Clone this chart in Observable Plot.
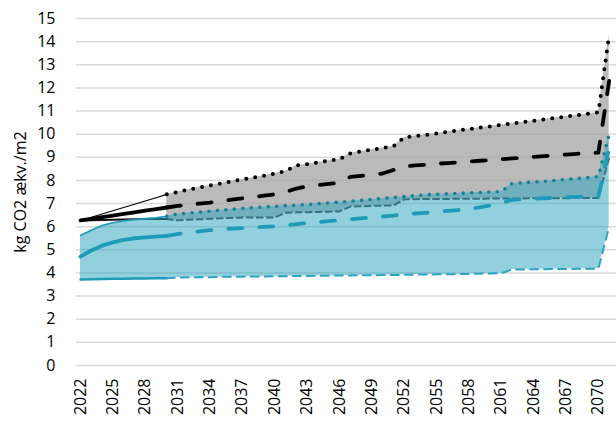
<!DOCTYPE html>
<html>
<head>
<meta charset="utf-8">
<script src="https://cdn.jsdelivr.net/npm/d3@7"></script>
<script src="https://cdn.jsdelivr.net/npm/@observablehq/plot@0.6"></script>
<style>
  html, body { margin: 0; padding: 0; background: #fff; }
  #chart { width: 616px; height: 423px; }
</style>
</head>
<body>
<div id="chart"></div>
<script>
const years = [2022,2023,2024,2025,2026,2027,2028,2029,2030,2031,2032,2033,2034,2035,2036,2037,2038,2039,2040,2041,2042,2043,2044,2045,2046,2047,2048,2049,2050,2051,2052,2053,2054,2055,2056,2057,2058,2059,2060,2061,2062,2063,2064,2065,2066,2067,2068,2069,2070,2071];

const blackMax = [6.27,6.41,6.55,6.69,6.83,6.97,7.11,7.25,7.4,7.5,7.6,7.7,7.78,7.87,7.96,8.04,8.12,8.2,8.3,8.4,8.65,8.7,8.78,8.85,8.92,9.17,9.25,9.33,9.4,9.48,9.86,9.92,9.97,10.03,10.1,10.16,10.22,10.28,10.34,10.4,10.46,10.52,10.58,10.64,10.7,10.76,10.82,10.88,10.94,14.3];
const blackMean = [6.27,6.34,6.41,6.48,6.55,6.62,6.69,6.76,6.83,6.9,6.95,7.0,7.04,7.1,7.17,7.23,7.28,7.34,7.4,7.5,7.65,7.74,7.8,7.85,7.9,8.15,8.2,8.24,8.3,8.45,8.6,8.65,8.68,8.72,8.75,8.78,8.82,8.85,8.88,8.92,8.95,8.98,9.02,9.05,9.08,9.12,9.15,9.18,9.2,12.3];
const blackMin = [6.27,6.28,6.29,6.3,6.31,6.32,6.33,6.34,6.33,6.28,6.3,6.32,6.34,6.36,6.38,6.4,6.4,6.4,6.4,6.6,6.62,6.63,6.64,6.65,6.66,6.87,6.88,6.9,6.91,6.92,7.18,7.19,7.2,7.2,7.2,7.21,7.21,7.21,7.22,7.22,7.22,7.22,7.23,7.23,7.23,7.23,7.24,7.24,7.24,9.0];
const tealMax = [5.62,5.85,6.05,6.17,6.25,6.31,6.35,6.38,6.45,6.55,6.59,6.63,6.67,6.71,6.75,6.79,6.82,6.85,6.88,6.91,6.93,6.96,7.0,7.03,7.06,7.1,7.14,7.18,7.22,7.26,7.3,7.34,7.38,7.4,7.42,7.44,7.46,7.48,7.5,7.52,7.87,7.9,7.93,7.96,8.0,8.04,8.08,8.12,8.17,10.0];
const tealMean = [4.71,4.97,5.18,5.32,5.43,5.5,5.54,5.57,5.6,5.68,5.74,5.8,5.85,5.89,5.92,5.94,5.96,5.99,6.02,6.06,6.11,6.16,6.2,6.24,6.28,6.32,6.36,6.4,6.44,6.48,6.53,6.57,6.6,6.64,6.68,6.72,6.77,6.84,6.92,7.02,7.16,7.19,7.21,7.23,7.25,7.27,7.29,7.3,7.3,9.4];
const tealMin = [3.72,3.73,3.74,3.75,3.75,3.76,3.76,3.77,3.77,3.8,3.81,3.82,3.82,3.83,3.84,3.84,3.85,3.85,3.86,3.86,3.87,3.87,3.88,3.88,3.89,3.89,3.9,3.9,3.91,3.91,3.92,3.93,3.93,3.94,3.94,3.95,3.96,3.97,3.98,3.99,4.15,4.15,4.16,4.16,4.17,4.17,4.18,4.18,4.19,6.0];

const xTicks = [2022,2025,2028,2031,2034,2037,2040,2043,2046,2049,2052,2055,2058,2061,2064,2067,2070];
const yTicks = [0,1,2,3,4,5,6,7,8,9,10,11,12,13,14,15];
const yLabel = "kg CO2 ækv./m2";
const splitYear = 2030;

const rows = years.map((year, i) => ({
  year,
  bMax: blackMax[i], bMean: blackMean[i], bMin: blackMin[i],
  tMax: tealMax[i], tMean: tealMean[i], tMin: tealMin[i]
}));
const early = rows.filter(d => d.year <= splitYear);
const late = rows.filter(d => d.year >= splitYear);

const font = "'Open Sans', Lato, sans-serif";

const chart = Plot.plot({
  width: 616,
  height: 423,
  marginLeft: 76,
  marginRight: 0,
  marginTop: 18,
  marginBottom: 58,
  style: { fontFamily: font, fontSize: "16px", color: "#000", background: "#fff" },
  x: { domain: [2021.63, 2071.68], axis: null },
  y: { domain: [0, 15], axis: null },
  marks: [
    Plot.ruleY(yTicks, { stroke: "#d9d9d9", strokeWidth: 1.5 }),
    // grey band (black scenario range)
    Plot.areaY(late, { x: "year", y1: "bMin", y2: "bMax", fill: "#a6a6a6", fillOpacity: 0.78 }),
    Plot.line(late, { x: "year", y: "bMin", stroke: "#3a3a3a", strokeWidth: 2, strokeDasharray: "6,4" }),
    Plot.line(early, { x: "year", y: "bMin", stroke: "#111", strokeWidth: 2 }),
    // teal band
    Plot.areaY(rows, { x: "year", y1: "tMin", y2: "tMax", fill: "rgb(49,166,192)", fillOpacity: 0.53 }),
    // black lines
    Plot.line(early, { x: "year", y: "bMax", stroke: "#000", strokeWidth: 1.2 }),
    Plot.line(late, { x: "year", y: "bMax", stroke: "#000", strokeWidth: 4, strokeDasharray: "0,9", strokeLinecap: "round" }),
    Plot.line(early, { x: "year", y: "bMean", stroke: "#000", strokeWidth: 3.8 }),
    Plot.line(late, { x: "year", y: "bMean", stroke: "#000", strokeWidth: 3.8, strokeDasharray: "14,17", strokeLinecap: "round" }),
    // teal lines
    Plot.line(early, { x: "year", y: "tMax", stroke: "#1f9bb8", strokeWidth: 1.6 }),
    Plot.line(late, { x: "year", y: "tMax", stroke: "#1a7f98", strokeWidth: 3.6, strokeDasharray: "0,8.5", strokeLinecap: "round" }),
    Plot.line(early, { x: "year", y: "tMean", stroke: "#1f9bb8", strokeWidth: 3.8 }),
    Plot.line(late, { x: "year", y: "tMean", stroke: "#1f9bb8", strokeWidth: 3.8, strokeDasharray: "14,17", strokeLinecap: "round" }),
    Plot.line(early, { x: "year", y: "tMin", stroke: "#1f9bb8", strokeWidth: 2.4 }),
    Plot.line(late, { x: "year", y: "tMin", stroke: "#2aa3c4", strokeWidth: 2, strokeDasharray: "8,6" }),
    // axes
    Plot.axisY(yTicks, { tickSize: 0, tickPadding: 21, label: null, fontSize: 16, fill: "#000" }),
    Plot.axisX(xTicks, { tickSize: 0, tickPadding: 13, tickRotate: -90, tickFormat: d => String(d), label: null, fontSize: 16, fill: "#000" }),
    Plot.text([yLabel], { frameAnchor: "left", textAnchor: "middle", dx: -56, rotate: -90, fontSize: 16, fill: "#000", text: d => d })
  ]
});
document.getElementById("chart").appendChild(chart);
</script>
</body>
</html>
